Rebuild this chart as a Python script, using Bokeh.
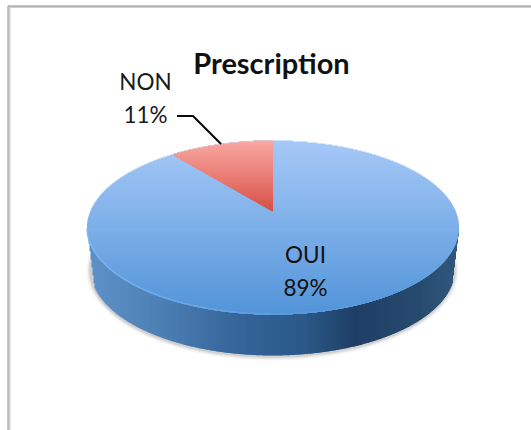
import numpy as np
from bokeh.plotting import figure
from bokeh.models import Range1d
from bokeh.core.properties import value
from bokeh.embed import file_html
from bokeh.resources import INLINE

categories = ["OUI", "NON"]
shares = [89, 11]
labels = ["89%", "11%"]
title_text = "Prescription"

W, H = 531, 430
p = figure(width=W, height=H, x_range=Range1d(0, W), y_range=Range1d(H, 0),
           output_backend="svg", toolbar_location=None, min_border=0,
           outline_line_color=None,
           background_fill_color="white", border_fill_color="white")
p.axis.visible = False
p.grid.visible = False

cx, cy, rx, ry = 272.5, 227.0, 186.0, 87.0
ax, ay = 272.5, 211.0
cx2, cy2, rx2, ry2 = 272.0, 269.0, 182.0, 86.0


def mix(stops, t):
    ts = [s[0] for s in stops]
    r = np.interp(t, ts, [s[1][0] for s in stops])
    g = np.interp(t, ts, [s[1][1] for s in stops])
    b = np.interp(t, ts, [s[1][2] for s in stops])
    return "#%02x%02x%02x" % (int(r), int(g), int(b))


def rim(theta):
    """Point on the top ellipse reached from the apex at pie angle theta."""
    dx, dy = -rx * np.sin(theta), -ry * np.cos(theta)
    a = (dx / rx) ** 2 + (dy / ry) ** 2
    b = 2 * (ax - cx) * dx / rx ** 2 + 2 * (ay - cy) * dy / ry ** 2
    c = ((ax - cx) / rx) ** 2 + ((ay - cy) / ry) ** 2 - 1
    t = (-b + np.sqrt(b * b - 4 * a * c)) / (2 * a)
    return ax + t * dx, ay + t * dy


# soft shadow
for grow, alpha in [(4, 0.06), (2.5, 0.10), (1.2, 0.14)]:
    tt = np.linspace(0, 2 * np.pi, 181)
    p.patch(cx2 + (rx2 + grow) * np.cos(tt), cy2 + 1 + (ry2 + grow) * np.sin(tt),
            fill_color="#555555", fill_alpha=alpha, line_color=None)

# side wall
side_stops = [(0.0, (96, 146, 200)), (0.2, (77, 128, 181)), (0.4, (54, 102, 154)),
              (0.58, (43, 90, 138)), (0.72, (31, 63, 102)), (0.9, (40, 76, 112)),
              (1.0, (50, 90, 126))]
xs = np.arange(cx - rx + 1, cx + rx, 1.0)
tops, bots, cols = [], [], []
for x in xs:
    u = (x - cx) / rx
    top_low = cy + ry * np.sqrt(max(0, 1 - u * u))
    v = (x - cx2) / rx2
    lower = cy2 + ry2 * np.sqrt(1 - v * v) if abs(v) < 1 else np.inf
    # straight taper from the top outline into the lower ellipse
    taper = cy + 8.0 * (rx - abs(x - cx))
    tops.append(cy)
    bots.append(max(min(lower, taper), top_low))
    cols.append(mix(side_stops, (x - (cx - rx)) / (2 * rx)))
p.quad(left=xs - 0.5, right=xs + 1.0, top=tops, bottom=bots,
       fill_color=cols, line_color=None)

# top face, row by row
blue_stops = [(0.0, (166, 201, 247)), (0.5, (125, 175, 233)), (1.0, (82, 148, 216))]
ys = np.arange(cy - ry, cy + ry, 1.0)
half = rx * np.sqrt(np.clip(1 - ((ys + 0.5 - cy) / ry) ** 2, 0, 1))
p.quad(left=cx - half, right=cx + half, top=ys, bottom=ys + 1.6,
       fill_color=[mix(blue_stops, (y - (cy - ry)) / (2 * ry)) for y in ys], line_color=None)

# rim highlight on the near edge, fading towards the right
tt = np.linspace(np.pi - 0.02, 0.9, 40)
for i in range(len(tt) - 1):
    seg = tt[i:i + 2]
    p.line(cx + rx * np.cos(seg), cy + ry * np.sin(seg) - 0.6,
           line_color="#7db6f2", line_width=1.6, line_alpha=0.95 * (1 - i / (len(tt) - 1)))

# NON wedge, row by row
theta = 2 * np.pi * shares[1] / sum(shares)
ex, ey = rim(theta)
red_stops = [(0.0, (250, 168, 162)), (0.5, (234, 125, 118)), (1.0, (214, 80, 70))]
ry_rows = np.arange(cy - ry, ay, 1.0)
lefts = []
for y in ry_rows:
    yc = y + 0.5
    ell = cx - rx * np.sqrt(max(0, 1 - ((yc - cy) / ry) ** 2))
    if yc < ey:
        lefts.append(ell)
    else:
        lefts.append(ax + (ex - ax) * (ay - yc) / (ay - ey))
p.quad(left=lefts, right=ax, top=ry_rows, bottom=np.minimum(ry_rows + 1.5, ay),
       fill_color=[mix(red_stops, (y - (cy - ry)) / (ay - (cy - ry))) for y in ry_rows],
       line_color=None)

# leader line
lx, ly = rim(theta / 2)
p.line([lx, lx - 28, lx - 44], [ly, ly - 28, ly - 28], line_color="#0a0a0a", line_width=2)

font = value("Lato")
p.text([271], [62], text=[title_text], text_font=font, text_font_size="29px",
       text_font_style="bold", text_align="center", text_baseline="alphabetic",
       text_color="#111111")
p.text([145, 145], [81, 114], text=[categories[1], labels[1]], text_font=font,
       text_font_size="22.5px", text_align="center", text_baseline="alphabetic",
       text_color="#1a1a1a")
p.text([305, 305], [254, 287], text=[categories[0], labels[0]], text_font=font,
       text_font_size="22.5px", text_align="center", text_baseline="alphabetic",
       text_color="#111111")

# frame: a dark hairline with a pale inner edge
p.line([9, 9, W], [H, 6.5, 6.5], line_color="#d0d0d0", line_width=2)
p.line([7.5, 7.5, W], [H, 5.5, 5.5], line_color="#8f8f8f", line_width=1)

open("out.html", "w").write(file_html(p, INLINE))
